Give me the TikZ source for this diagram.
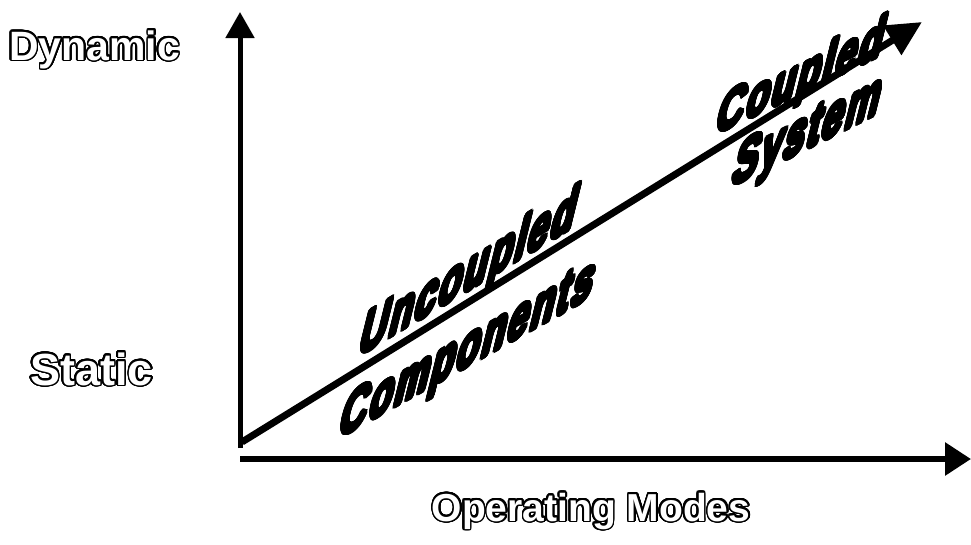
\documentclass[tikz,border=0pt]{standalone}
\usepackage{fontspec}
\usepackage{contour}
\usetikzlibrary{arrows.meta,positioning}
\newfontfamily\outfont{Liberation Sans}
\newfontfamily\artfont{Liberation Sans}[LetterSpace=6]
\contournumber{32}
\newcommand{\hollow}[1]{{\contourlength{1.6pt}\contour{black}{#1}}}
\newcommand{\heavy}[1]{{\contourlength{1.6pt}\contour{black}{#1}}}

\begin{document}
\begin{tikzpicture}[x=1pt,y=-1pt,
    axis/.style={-{Triangle[length=26pt,width=28pt]},line width=5pt},
    outline label/.style={text=white,inner sep=0pt,font=\outfont\bfseries\fontsize{#1}{#1}\selectfont},
    word art/.style={inner sep=0pt,anchor=base west,font=\artfont\bfseries\fontsize{38}{46}\selectfont},
    word tilt/.style={cm={1,#1,0.42,1.7,(0,0)}}]

\useasboundingbox (0,0) rectangle (971,544);

% axes
\coordinate (ybot) at (240,448);
\coordinate (ytop) at (240,12);
\coordinate (xleft) at (240,459);
\coordinate (xright) at (971,459);
\draw[axis] (ybot) -- (ytop);
\draw[axis,line width=6pt,-{Triangle[length=26pt,width=32pt]}] (xleft) -- (xright);

% growth arrow
\coordinate (dstart) at (242,442);
\coordinate (dtip) at (922,22);
\draw[line width=7pt,-{Triangle[length=35pt,width=33pt]}] (dstart) -- (dtip);

% axis labels
\node[outline label=41,anchor=base west] (dyn) at (9,60) {\hollow{Dynamic}};
\node[outline label=45,anchor=base west] (sta) at (30,385) {\hollow{Static}};
\node[outline label=39,anchor=base] (opm) at (591,521) {\hollow{Operating Modes}};

% slanted words
\node[word art,word tilt=0.6] (unc) at (357,357) {\heavy{Uncoupled}};
\node[word art,word tilt=0.56] (comp) at (337,439) {\heavy{Components}};
\node[word art,word tilt=0.48,yscale=0.92] (coup) at (714,135) {\heavy{Coupled}};
\node[word art,word tilt=0.5] (sys) at (730,187) {\heavy{System}};
\end{tikzpicture}
\end{document}
